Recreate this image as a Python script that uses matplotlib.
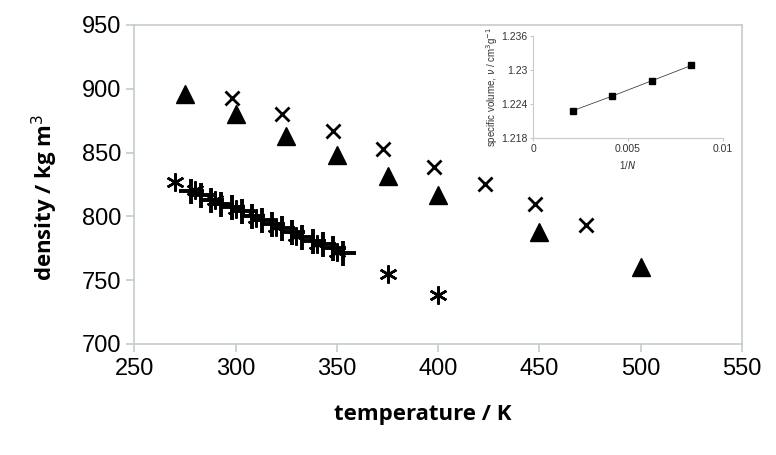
import numpy as np
import matplotlib
matplotlib.use("Agg")
import matplotlib.pyplot as plt

plt.rcParams["font.family"] = ["Liberation Sans", "DejaVu Sans"]

# triangles
tri_T = [275, 300, 325, 350, 375, 400, 450, 500]
tri_rho = [896, 880, 863, 848, 832, 817, 788, 760]
# crosses
x_T = [298, 323, 348, 373, 398, 423, 448, 473]
x_rho = [893, 880, 867, 853, 839, 825, 810, 793]
# asterisks
ast_T = [270, 280, 290, 300, 310, 320, 330, 340, 350, 375, 400]
ast_rho = [827, 821, 813, 806, 799, 792, 785, 778, 772, 755, 738]
# pluses
plus_T = [278, 283, 288, 293, 298, 303, 308, 313, 318, 323, 328, 333, 338, 343, 348, 353]
plus_rho = [820, 817, 813, 810, 807, 804, 800, 797, 794, 791, 788, 784, 781, 778, 775, 771]

# inset: specific volume vs 1/N
inv_N = [0.00208, 0.00417, 0.00625, 0.00833]
spec_v = [1.2228, 1.2254, 1.2281, 1.2308]

grey = "#c4cccc"

fig = plt.figure(figsize=(7.76, 4.55), dpi=100)
ax = fig.add_axes([0.1731, 0.2440, 0.7831, 0.7011])

ax.plot(tri_T, tri_rho, ls="none", marker="^", ms=13, color="black")
ax.plot(x_T, x_rho, ls="none", marker="x", ms=9.5, mew=2, color="black")
ax.plot(plus_T, plus_rho, ls="none", marker="+", ms=18, mew=2.8, color="black")
ax.plot(ast_T, ast_rho, ls="none", marker=(6, 2, 0), ms=13, mew=1.8, color="black")

ax.set_xlim(250, 550)
ax.set_ylim(700, 950)
ax.set_xticks(np.arange(250, 551, 50))
ax.set_yticks(np.arange(700, 951, 50))
for s in ax.spines.values():
    s.set_color(grey)
    s.set_linewidth(1.2)
ax.tick_params(colors=grey, labelcolor="black", labelsize=17, length=6, width=1.2)
ax.tick_params(axis="x", pad=4)

lab_font = {"family": ["Open Sans", "DejaVu Sans"], "weight": "bold", "size": 16}
fig.text(0.5445, 0.088, "temperature / K", ha="center", va="center", fontdict=lab_font)
fig.text(0.058, 0.567, "density / kg m$^{3}$", ha="center", va="center",
         rotation=90, fontdict=lab_font)

# inset
ins = fig.add_axes([0.6869, 0.6967, 0.2448, 0.2242])
ins.plot(inv_N, spec_v, color="#444444", lw=0.6, marker="s", ms=4, mfc="black", mec="black")
ins.set_xlim(0, 0.01)
ins.set_ylim(1.218, 1.236)
ins.set_xticks([0, 0.005, 0.01])
ins.set_xticklabels(["0", "0.005", "0.01"])
ins.set_yticks([1.218, 1.224, 1.23, 1.236])
ins.set_yticklabels(["1.218", "1.224", "1.23", "1.236"])
ins.spines["top"].set_visible(False)
ins.spines["right"].set_visible(False)
for k in ("left", "bottom"):
    ins.spines[k].set_color(grey)
ins.tick_params(colors=grey, labelcolor="#333333", labelsize=7.5, length=2, pad=2)
ins.set_xlabel("1/$N$", fontsize=7, color="#333333", labelpad=4)
ins.set_ylabel("specific volume, $\\nu$ / cm$^3$g$^{-1}$", fontsize=7, color="#333333", labelpad=1)

fig.savefig("out.png", dpi=100)
